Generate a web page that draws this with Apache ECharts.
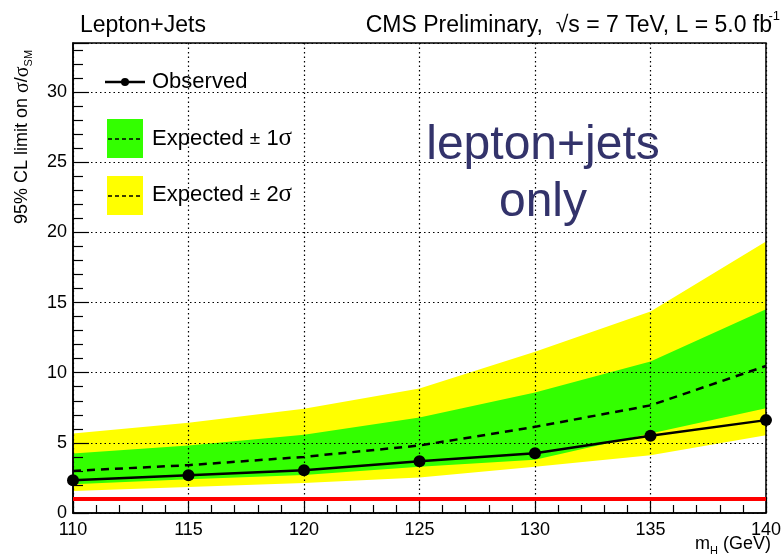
<!DOCTYPE html>
<html>
<head>
<meta charset="utf-8">
<script src="https://cdn.jsdelivr.net/npm/echarts@6/dist/echarts.min.js"></script>
<style>
  html, body { margin: 0; padding: 0; background: #ffffff; }
  #chart { width: 784px; height: 554px; }
</style>
</head>
<body>
<div id="chart"></div>
<script>
// Higgs mass points (GeV)
const masses = [110, 115, 120, 125, 130, 135, 140];
// Observed 95% CL upper limit on sigma/sigma_SM
const observed = [2.34, 2.69, 3.05, 3.69, 4.26, 5.50, 6.62];
// Median expected limit
const expected = [3.00, 3.41, 4.00, 4.81, 6.14, 7.67, 10.48];
// Expected +-1 sigma band
const band1Low  = [2.05, 2.40, 2.70, 3.29, 3.80, 5.67, 7.46];
const band1High = [4.24, 4.81, 5.57, 6.81, 8.58, 10.79, 14.53];
// Expected +-2 sigma band
const band2Low  = [1.57, 1.85, 2.14, 2.53, 3.29, 4.12, 5.55];
const band2High = [5.67, 6.43, 7.43, 8.88, 11.50, 14.36, 19.36];
// SM reference level
const smLevel = 1;

const FONT = '"Liberation Sans", Arial, Helvetica, sans-serif';
const SERIF = '"Liberation Serif", "Times New Roman", serif';

function bandSeries(name, low, high, color, z) {
  return {
    name: name,
    type: 'custom',
    z: z,
    silent: true,
    data: masses.map((m, i) => [m, low[i], high[i]]),
    renderItem: function (params, api) {
      if (params.dataIndex !== 0) return null;
      const upper = masses.map((m, i) => api.coord([m, high[i]]));
      const lower = masses.map((m, i) => api.coord([m, low[i]])).reverse();
      return {
        type: 'polygon',
        shape: { points: upper.concat(lower) },
        style: { fill: color, stroke: null }
      };
    }
  };
}

function legendLabel(k) {
  return {
    text: '{n|Expected }{p|±}{n| ' + k + '}{g|σ}',
    fill: '#000',
    rich: {
      n: { fontSize: 22, fontFamily: FONT, lineHeight: 26 },
      p: { fontSize: 19, fontFamily: FONT, lineHeight: 26 },
      g: { fontSize: 25, fontFamily: SERIF, lineHeight: 26 }
    }
  };
}

const chart = echarts.init(document.getElementById('chart'), null, { renderer: 'canvas' });

const option = {
  backgroundColor: '#ffffff',
  animation: false,
  grid: {
    left: 73, right: 15, top: 43, bottom: 41,
    show: true, borderColor: '#000000', borderWidth: 1.5,
    backgroundColor: 'transparent', z: 3
  },
  xAxis: {
    type: 'value', min: 110, max: 140, interval: 5,
    z: 3,
    axisLine: { onZero: false, lineStyle: { color: '#000', width: 1.5 } },
    axisTick: { inside: true, length: 16, lineStyle: { color: '#000', width: 1.2 } },
    minorTick: { show: true, splitNumber: 5, length: 8, lineStyle: { color: '#000', width: 1.2 } },
    splitLine: { show: true, lineStyle: { color: '#000', type: [1.5, 3], width: 1.2 } },
    axisLabel: { color: '#000', fontFamily: FONT, fontSize: 18, margin: 8 }
  },
  yAxis: {
    type: 'value', min: 0, max: 33.5, interval: 5,
    z: 3,
    axisLine: { show: true, onZero: false, lineStyle: { color: '#000', width: 1.5 } },
    axisTick: { show: true, inside: true, length: 16, lineStyle: { color: '#000', width: 1.2 } },
    minorTick: { show: true, splitNumber: 5, length: 10, lineStyle: { color: '#000', width: 1.2 } },
    splitLine: { show: true, lineStyle: { color: '#000', type: [1.5, 3], width: 1.2 } },
    axisLabel: { color: '#000', fontFamily: FONT, fontSize: 18, margin: 6, showMaxLabel: false }
  },
  graphic: [
    // header texts
    { type: 'text', left: 80, top: 14, z: 10,
      style: { text: 'Lepton+Jets', font: '23px ' + FONT, fill: '#000' } },
    { type: 'text', right: 12, top: 14, z: 10,
      style: { text: 'CMS Preliminary,  √s = 7 TeV, L = 5.0 fb', font: '23px ' + FONT, fill: '#000' } },
    { type: 'text', right: 4, top: 10, z: 10,
      style: { text: '-1', font: '13px ' + FONT, fill: '#000' } },
    // axis titles
    { type: 'text', x: 13, y: 224, rotation: Math.PI / 2, z: 10,
      style: {
        text: '{n|95% CL limit on }{g|σ}{n|/}{g|σ}{s|SM}',
        fill: '#000',
        rich: {
          n: { fontSize: 18, fontFamily: FONT, verticalAlign: 'top', lineHeight: 21 },
          g: { fontSize: 20, fontFamily: SERIF, verticalAlign: 'top', lineHeight: 21 },
          s: { fontSize: 11, fontFamily: FONT, verticalAlign: 'bottom', lineHeight: 21 }
        }
      } },
    { type: 'text', right: 13, top: 535, z: 10,
      style: {
        text: '{n|m}{s|H}{n| (GeV)}',
        fill: '#000',
        rich: {
          n: { fontSize: 18, fontFamily: FONT, verticalAlign: 'top', lineHeight: 21 },
          s: { fontSize: 11, fontFamily: FONT, verticalAlign: 'bottom', lineHeight: 21 }
        }
      } },
    // annotation
    { type: 'text', x: 543, y: 117, z: 10,
      style: {
        text: 'lepton+jets\nonly', font: '48px ' + FONT, fill: '#33336b',
        align: 'center', lineHeight: 57
      } },
    // legend: observed
    { type: 'line', z: 10, shape: { x1: 105, y1: 82, x2: 145, y2: 82 },
      style: { stroke: '#000', lineWidth: 2.5 } },
    { type: 'circle', z: 10, shape: { cx: 125, cy: 82, r: 4 }, style: { fill: '#000' } },
    { type: 'text', z: 10, left: 152, top: 71,
      style: { text: 'Observed', font: '22px ' + FONT, fill: '#000' } },
    // legend: 1 sigma
    { type: 'rect', z: 10, shape: { x: 107, y: 119, width: 36, height: 39 }, style: { fill: '#33ff00' } },
    { type: 'line', z: 11, shape: { x1: 108, y1: 139, x2: 142, y2: 139 },
      style: { stroke: '#000', lineWidth: 1.5, lineDash: [4, 3] } },
    { type: 'text', z: 10, left: 152, top: 126, style: legendLabel(1) },
    // legend: 2 sigma
    { type: 'rect', z: 10, shape: { x: 107, y: 176, width: 36, height: 39 }, style: { fill: '#ffff00' } },
    { type: 'line', z: 11, shape: { x1: 108, y1: 196, x2: 142, y2: 196 },
      style: { stroke: '#000', lineWidth: 1.5, lineDash: [4, 3] } },
    { type: 'text', z: 10, left: 152, top: 182, style: legendLabel(2) }
  ],
  series: [
    bandSeries('Expected ± 2σ', band2Low, band2High, '#ffff00', 1),
    bandSeries('Expected ± 1σ', band1Low, band1High, '#33ff00', 1),
    {
      name: 'SM', type: 'line', z: 4, silent: true, symbol: 'none',
      data: [[masses[0], smLevel], [masses[masses.length - 1], smLevel]],
      lineStyle: { color: '#ff0000', width: 4 }
    },
    {
      name: 'Expected', type: 'line', z: 5, silent: true, symbol: 'none',
      data: masses.map((m, i) => [m, expected[i]]),
      lineStyle: { color: '#000', width: 2.5, type: [8, 6] }
    },
    {
      name: 'Observed', type: 'line', z: 6, silent: true,
      symbol: 'circle', symbolSize: 12,
      itemStyle: { color: '#000' },
      data: masses.map((m, i) => [m, observed[i]]),
      lineStyle: { color: '#000', width: 2.5 }
    }
  ]
};

chart.setOption(option);
</script>
</body>
</html>
